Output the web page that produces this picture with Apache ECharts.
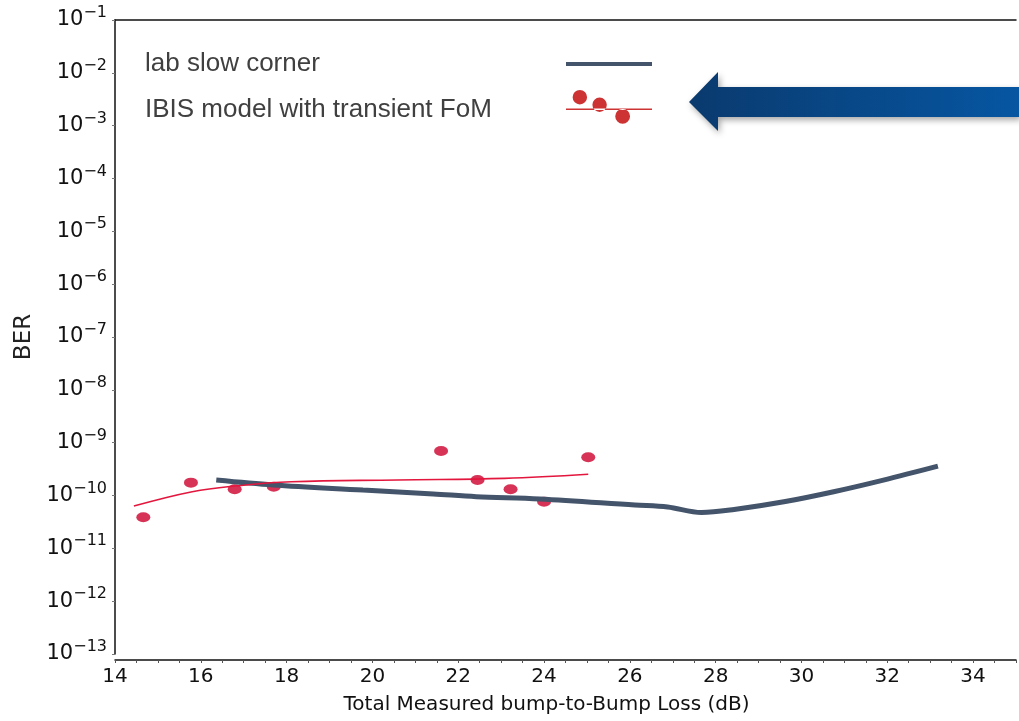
<!DOCTYPE html>
<html>
<head>
<meta charset="utf-8">
<script src="https://cdn.jsdelivr.net/npm/echarts@6/dist/echarts.min.js"></script>
<style>
html,body{margin:0;padding:0;background:#fff;}
#chart{width:1019px;height:721px;}
</style>
</head>
<body>
<div id="chart"></div>
<script>
// Data
const labName = 'lab slow corner';
const ibisName = 'IBIS model with transient FoM';
const labX   = [16.36, 17.69, 19.78, 21.42, 22.42, 23.90, 26.12, 26.88, 27.67, 28.43, 29.59, 30.75, 31.91, 33.18];
const labBER = [1.96e-10, 1.58e-10, 1.27e-10, 1.07e-10, 9.5e-11, 8.6e-11, 6.6e-11, 6.05e-11, 4.76e-11, 5.43e-11, 7.6e-11, 1.18e-10, 1.96e-10, 3.6e-10];
const trendX   = [14.44, 15.80, 16.87, 18.11, 20.59, 23.08, 25.03];
const trendBER = [6.3e-11, 1.18e-10, 1.53e-10, 1.82e-10, 1.97e-10, 2.11e-10, 2.52e-10];
const ibisX   = [14.66, 15.77, 16.79, 17.70, 21.60, 22.45, 23.22, 24.00, 25.03];
const ibisBER = [3.87e-11, 1.75e-10, 1.31e-10, 1.47e-10, 6.95e-10, 1.96e-10, 1.31e-10, 7.6e-11, 5.3e-10];
const xTicks = [14, 16, 18, 20, 22, 24, 26, 28, 30, 32, 34];
const yMin = 1e-13, yMax = 1e-1;
const xTitle = 'Total Measured bump-to-Bump Loss (dB)';
const yTitle = 'BER';

const zip = (xs, ys) => xs.map((x, i) => [x, ys[i]]);
const chart = echarts.init(document.getElementById('chart'), null, {renderer: 'canvas'});
const tickFont = 'DejaVu Sans';
const option = {
  backgroundColor: '#ffffff',
  animation: false,
  grid: {left: 115, top: 20, width: 908, height: 634, containLabel: false},
  legend: {
    orient: 'vertical', left: 140, top: 46, align: 'right',
    itemWidth: 86, itemHeight: 35, itemGap: 13, symbolKeepAspect: true,
    formatter: n => n === ibisName ? '{u|' + n + '}' : '{t|' + n + '}',
    textStyle: {rich: {
      t: {width: 416, align: 'left', fontSize: 26, fontFamily: 'Liberation Sans', color: '#404040'},
      u: {width: 416, align: 'left', fontSize: 26, fontFamily: 'Liberation Sans', color: '#404040', padding: [5, 0, 0, 0]}
    }},
    data: [
      {name: labName, icon: 'path://M0,0H86V4H0Z', itemStyle: {color: '#44546a'}},
      {name: ibisName,
       icon: 'path://M0,19H87V20.6H0Z M6.7,7.7a7.3,7.3 0 1,0 14.6,0a7.3,7.3 0 1,0 -14.6,0Z M26.7,15.3a7.3,7.3 0 1,0 14.6,0a7.3,7.3 0 1,0 -14.6,0Z M49.8,27a7.5,7.5 0 1,0 15,0a7.5,7.5 0 1,0 -15,0Z',
       itemStyle: {color: '#c00000'}}
    ]
  },
  xAxis: [{
    type: 'value', min: xTicks[0], max: 35, interval: 2, offset: 6,
    position: 'bottom',
    axisLine: {lineStyle: {color: '#111', width: 1.5}},
    axisTick: {show: true, length: 3, lineStyle: {color: '#555'}},
    minorTick: {show: true, splitNumber: 4, length: 3, lineStyle: {color: '#555'}},
    splitLine: {show: false},
    axisLabel: {fontFamily: tickFont, fontSize: 20, color: '#111', margin: 7,
      formatter: v => xTicks.indexOf(v) >= 0 ? String(v) : ''},
    name: xTitle, nameLocation: 'middle', nameGap: 35,
    nameTextStyle: {fontFamily: tickFont, fontSize: 20, color: '#111', padding: [0, 38, 0, 0]}
  }, {
    type: 'value', min: xTicks[0], max: 35, position: 'top',
    axisLine: {lineStyle: {color: '#111', width: 1.5}},
    axisTick: {show: false}, axisLabel: {show: false}, splitLine: {show: false}
  }],
  yAxis: {
    type: 'log', min: yMin, max: yMax, logBase: 10, interval: 1, splitNumber: 12,
    axisLine: {show: true, lineStyle: {color: '#111', width: 1.5}},
    axisTick: {show: true, length: 3, lineStyle: {color: '#777'}},
    splitLine: {show: false},
    axisLabel: {
      margin: 8,
      formatter: v => '{b|10}{s|\u2212' + Math.round(-Math.log10(v)) + '}',
      rich: {
        b: {fontFamily: tickFont, fontSize: 21, color: '#111'},
        s: {fontFamily: tickFont, fontSize: 16, color: '#111', padding: [0, 0, 14, 0]}
      }
    },
    name: yTitle, nameLocation: 'middle', nameGap: 76,
    nameTextStyle: {fontFamily: tickFont, fontSize: 23, color: '#222'}
  },
  series: [
    {name: ibisName, type: 'scatter', data: zip(ibisX, ibisBER), symbol: 'circle', symbolSize: [14, 10],
     itemStyle: {color: '#cc002c'}, z: 2},
    {name: labName, type: 'line', data: zip(labX, labBER), smooth: 0.35, showSymbol: false,
     lineStyle: {color: '#44546a', width: 5}, itemStyle: {color: '#44546a'}, z: 3},
    {name: ibisName, type: 'line', data: zip(trendX, trendBER), smooth: 0.4, showSymbol: false,
     lineStyle: {color: '#e3173e', width: 1.6}, itemStyle: {color: '#c00000'}, z: 4}
  ],
  graphic: [{
    type: 'polygon', z: 10,
    shape: {points: [[689, 102], [718, 72], [718, 87], [1019, 87], [1019, 117], [718, 117], [718, 131]]},
    style: {
      fill: new echarts.graphic.LinearGradient(0, 0, 1, 0, [
        {offset: 0, color: '#0a3a6e'}, {offset: 1, color: '#0656a2'}
      ]),
      shadowBlur: 6, shadowColor: 'rgba(0,0,0,0.35)', shadowOffsetX: 2, shadowOffsetY: 3
    }
  }]
};
chart.setOption(option);
</script>
</body>
</html>
